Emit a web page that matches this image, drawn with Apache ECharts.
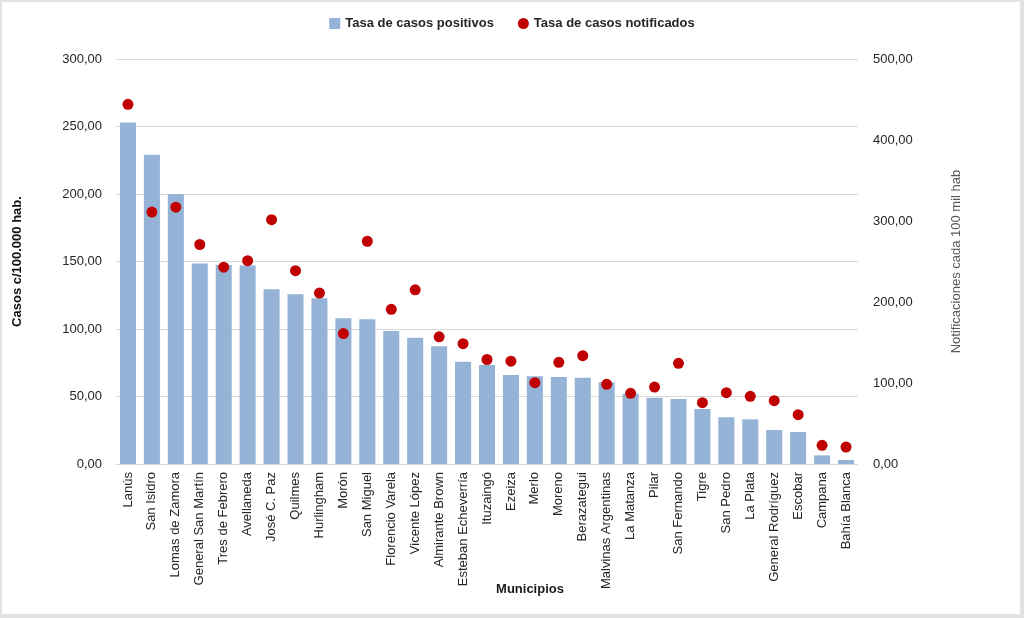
<!DOCTYPE html>
<html>
<head>
<meta charset="utf-8">
<script src="https://cdn.jsdelivr.net/npm/echarts@6/dist/echarts.min.js"></script>
<style>
  html, body { margin: 0; padding: 0; background: #fff; }
  #wrap { position: relative; width: 1024px; height: 618px; }
  #chart { width: 1024px; height: 618px; }
  #frame { position: absolute; left: 0; top: 0; width: 1024px; height: 618px; box-sizing: border-box;
           border: 2px solid #e2e2e2; border-bottom-width: 4px; border-right-width: 4px; pointer-events: none; }
</style>
</head>
<body>
<div id="wrap">
  <div id="chart"></div>
  <div id="frame"></div>
</div>
<script>
// municipios y tasas
const municipios = ['Lanús', 'San Isidro', 'Lomas de Zamora', 'General San Martín', 'Tres de Febrero',
  'Avellaneda', 'José C. Paz', 'Quilmes', 'Hurlingham', 'Morón', 'San Miguel', 'Florencio Varela',
  'Vicente López', 'Almirante Brown', 'Esteban Echeverría', 'Ituzaingó', 'Ezeiza', 'Merlo', 'Moreno',
  'Berazategui', 'Malvinas Argentinas', 'La Matanza', 'Pilar', 'San Fernando', 'Tigre', 'San Pedro',
  'La Plata', 'General Rodríguez', 'Escobar', 'Campana', 'Bahía Blanca'];

const tasaPositivos = [253, 229, 200, 148.6, 147.5, 147, 129.4, 125.7, 122.7, 108, 107.2, 98.5,
  93.6, 87.2, 75.8, 73.3, 65.9, 65, 64.4, 63.9, 60.5, 52.1, 49.1, 48.1, 40.7, 34.6,
  33.1, 25.2, 23.7, 6.4, 3];

const tasaNotificados = [444, 311, 317, 271, 243, 251, 301.6, 238.7, 211, 161, 275, 191,
  215, 157, 148.6, 129, 127, 100.4, 125.5, 133.7, 98.4, 87.2, 95, 124.3, 75.7, 88,
  83.6, 78.2, 60.9, 23, 21];

const fmt = v => v.toFixed(2).replace('.', ',');

let chart = echarts.init(document.getElementById('chart'));

let option = {
    animation: false,
    textStyle: { fontFamily: 'Liberation Sans' },
    legend: {
        top: 12,
        left: 'center',
        itemGap: 24,
        itemWidth: 11,
        itemHeight: 11,
        textStyle: { fontSize: 13, fontWeight: 'bold', color: '#262626' },
        data: [
            { name: 'Tasa de casos positivos', icon: 'rect' },
            { name: 'Tasa de casos notificados', icon: 'circle' }
        ]
    },
    grid: { left: 116, right: 166, top: 59, bottom: 154 },
    xAxis: {
        type: 'category',
        data: municipios,
        name: 'Municipios',
        nameLocation: 'middle',
        nameGap: 119,
        nameMoveOverlap: false,
        nameTextStyle: { fontSize: 13, fontWeight: 'bold', color: '#1a1a1a', padding: [0, 0, 0, 86] },
        axisTick: { show: false },
        axisLine: { lineStyle: { color: '#d9d9d9' } },
        axisLabel: { rotate: 90, fontSize: 13, color: '#262626', interval: 0, margin: 8 }
    },
    yAxis: [{
        type: 'value',
        min: 0, max: 300, interval: 50,
        name: 'Casos c/100.000 hab.',
        nameLocation: 'middle',
        nameGap: 92,
        nameTextStyle: { fontSize: 13, fontWeight: 'bold', color: '#111' },
        axisLabel: { formatter: fmt, fontSize: 13, color: '#262626', margin: 14 },
        splitLine: { lineStyle: { color: '#d9d9d9' } },
        axisLine: { show: false },
        axisTick: { show: false }
    }, {
        type: 'value',
        min: 0, max: 500, interval: 100,
        name: 'Notificaciones cada 100 mil hab',
        nameLocation: 'middle',
        nameGap: 92,
        nameTextStyle: { fontSize: 13, color: '#595959' },
        axisLabel: { formatter: fmt, fontSize: 13, color: '#262626', margin: 15 },
        splitLine: { show: false },
        axisLine: { show: false },
        axisTick: { show: false }
    }],
    series: [{
        name: 'Tasa de casos positivos',
        type: 'bar',
        data: tasaPositivos,
        barCategoryGap: '33%',
        itemStyle: { color: '#95b3d7' }
    }, {
        name: 'Tasa de casos notificados',
        type: 'scatter',
        yAxisIndex: 1,
        data: tasaNotificados,
        symbolSize: 11,
        itemStyle: { color: '#c00000', opacity: 1 }
    }]
};

chart.setOption(option);
</script>
</body>
</html>
